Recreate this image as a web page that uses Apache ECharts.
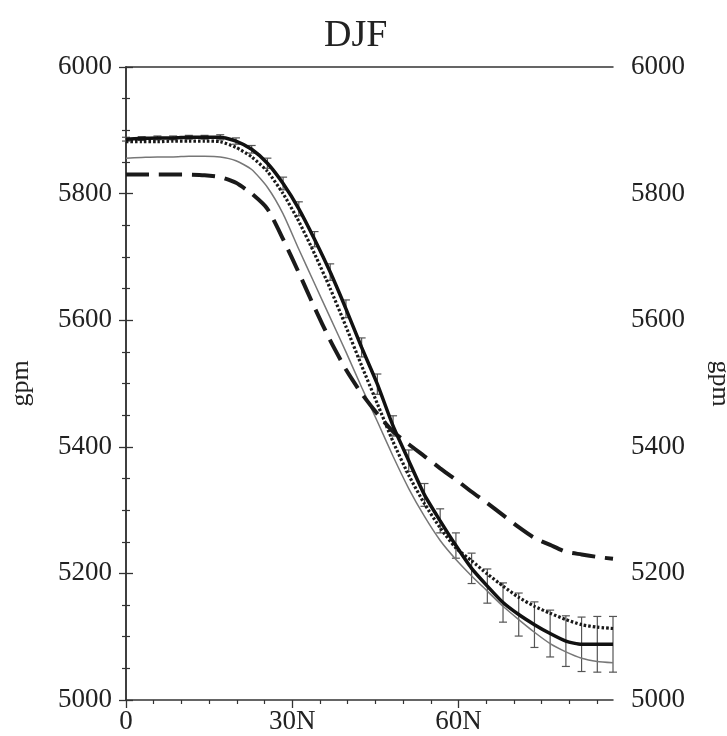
<!DOCTYPE html>
<html><head><meta charset="utf-8">
<script src="https://cdn.jsdelivr.net/npm/echarts@6/dist/echarts.min.js"></script>
<style>html,body{margin:0;padding:0;background:#fff;overflow:hidden}#c{width:727px;height:736px}</style>
</head><body><div id="c"></div>
<script>
// latitude (degrees N) of each data point
const latitudes = [0, 2.83, 5.67, 8.50, 11.34, 14.17, 17.00, 19.84, 22.67, 25.51, 28.34, 31.18, 34.01, 36.84, 39.68, 42.51, 45.35, 48.18, 51.01, 53.85, 56.68, 59.52, 62.35, 65.19, 68.02, 70.85, 73.69, 76.52, 79.36, 82.19, 85.03, 87.86];
// thick solid black line (with error bars)
const thickLine = [5886, 5887, 5888, 5888, 5889, 5889, 5889, 5883, 5870, 5848, 5816, 5776, 5728, 5676, 5618, 5557, 5499, 5433, 5378, 5324, 5283, 5244, 5208, 5180, 5154, 5135, 5119, 5105, 5093, 5088, 5088, 5088];
// half-length of the error bars on the thick line
const errHalf = [3, 3, 3, 3, 3, 3, 4, 5, 6, 8, 10, 11, 12, 13, 14, 15, 16, 16, 17, 18, 19, 20, 24, 27, 31, 34, 36, 37, 40, 43, 44, 44];
// dotted black line
const dottedLine = [5882, 5882, 5882, 5883, 5883, 5883, 5882, 5873, 5858, 5835, 5800, 5756, 5705, 5650, 5590, 5528, 5468, 5408, 5355, 5310, 5272, 5240, 5220, 5199, 5180, 5162, 5148, 5137, 5127, 5119, 5115, 5113];
// thin gray line
const thinLine = [5856, 5857, 5858, 5858, 5859, 5859, 5858, 5852, 5838, 5810, 5768, 5712, 5658, 5604, 5550, 5494, 5440, 5385, 5334, 5290, 5252, 5222, 5196, 5172, 5148, 5127, 5107, 5089, 5076, 5066, 5061, 5059];
// thick dashed black line
const dashedLine = [5830, 5830, 5830, 5830, 5830, 5829, 5826, 5817, 5800, 5776, 5728, 5675, 5620, 5568, 5522, 5484, 5452, 5424, 5404, 5385, 5366, 5348, 5329, 5311, 5292, 5273, 5256, 5245, 5234, 5230, 5226, 5223];

const xMajorTicks = [0, 30, 60];
const xTickLabels = ['0', '30N', '60N'];
const xMinorTicks = [5, 10, 15, 20, 25, 35, 40, 45, 50, 55, 65, 70, 75, 80, 85];
const xMin = 0, xMax = 87.86;
const yMin = 5000, yMax = 6000, yStep = 200;

const FONT = 'Liberation Serif';
const AX = '#333';

const pairs = arr => latitudes.map((x, i) => [x, arr[i]]);

const chart = echarts.init(document.getElementById('c'), null, {renderer: 'canvas'});

const yAxisCommon = {
  type: 'value', min: yMin, max: yMax, interval: yStep,
  axisLine: {show: true, lineStyle: {color: AX, width: 1.5}},
  axisTick: {show: true, length: 7, lineStyle: {color: AX, width: 1.3}},
  minorTick: {show: true, splitNumber: 4, length: 4, lineStyle: {color: AX, width: 1.2}},
  splitLine: {show: false},
  minorSplitLine: {show: false},
  axisLabel: {fontFamily: FONT, fontSize: 27, color: '#222', formatter: v => String(v)},
  name: 'gpm', nameLocation: 'middle',
  nameTextStyle: {fontFamily: FONT, fontSize: 26, color: '#222'}
};

const option = {
  animation: false,
  backgroundColor: '#fff',
  title: {
    text: 'DJF', left: 319, top: 12,
    textStyle: {fontFamily: FONT, fontSize: 38, fontWeight: 'normal', color: '#222'}
  },
  grid: {left: 126, right: 114, top: 67, bottom: 36, containLabel: false, outerBoundsMode: 'none'},
  xAxis: [
    {
      type: 'value', min: xMin, max: xMax, position: 'bottom',
      axisLine: {show: true, onZero: false, lineStyle: {color: AX, width: 1.5}},
      axisTick: {show: true, customValues: xMajorTicks, length: 8, lineStyle: {color: AX, width: 1.3}},
      axisLabel: {
        customValues: xMajorTicks,
        formatter: v => { const k = xMajorTicks.indexOf(v); return k >= 0 ? xTickLabels[k] : ''; },
        fontFamily: FONT, fontSize: 27, color: '#222', margin: 8
      },
      splitLine: {show: false}
    },
    {
      type: 'value', min: xMin, max: xMax, position: 'bottom',
      axisLine: {show: false, onZero: false},
      axisTick: {show: true, customValues: xMinorTicks, length: 4, lineStyle: {color: AX, width: 1.2}},
      axisLabel: {show: false},
      splitLine: {show: false}
    },
    {
      type: 'value', min: xMin, max: xMax, position: 'top',
      axisLine: {show: true, onZero: false, lineStyle: {color: AX, width: 1.5}},
      axisTick: {show: false}, axisLabel: {show: false}, splitLine: {show: false}
    }
  ],
  yAxis: [
    Object.assign({}, yAxisCommon, {
      position: 'left', nameRotate: 90, nameGap: 92,
      axisLabel: Object.assign({}, yAxisCommon.axisLabel, {margin: 14})
    }),
    Object.assign({}, yAxisCommon, {
      position: 'right', nameRotate: -90, nameGap: 94,
      axisLabel: Object.assign({}, yAxisCommon.axisLabel, {margin: 18})
    })
  ],
  series: [
    {
      type: 'custom', name: 'errorbars', xAxisIndex: 0, yAxisIndex: 0, z: 2,
      data: latitudes.map((x, i) => [x, thickLine[i] - errHalf[i], thickLine[i] + errHalf[i]]),
      encode: {x: 0, y: [1, 2]},
      renderItem: function (params, api) {
        const x = api.value(0);
        const lo = api.coord([x, api.value(1)]);
        const hi = api.coord([x, api.value(2)]);
        const w = 4;
        const style = {stroke: '#555', lineWidth: 1.2, fill: null};
        return {type: 'group', children: [
          {type: 'line', shape: {x1: lo[0], y1: lo[1], x2: hi[0], y2: hi[1]}, style: style},
          {type: 'line', shape: {x1: lo[0] - w, y1: lo[1], x2: lo[0] + w, y2: lo[1]}, style: style},
          {type: 'line', shape: {x1: hi[0] - w, y1: hi[1], x2: hi[0] + w, y2: hi[1]}, style: style}
        ]};
      }
    },
    {
      type: 'line', name: 'thin', data: pairs(thinLine), showSymbol: false, smooth: 0.2, z: 3,
      lineStyle: {color: '#777', width: 1.5}
    },
    {
      type: 'line', name: 'dashed', data: pairs(dashedLine), showSymbol: false, smooth: 0.2, z: 4,
      lineStyle: {color: '#1a1a1a', width: 4, type: [23, 10]}
    },
    {
      type: 'line', name: 'dotted', data: pairs(dottedLine), showSymbol: false, smooth: 0.2, z: 5,
      lineStyle: {color: '#1a1a1a', width: 3.2, type: [2.5, 2]}
    },
    {
      type: 'line', name: 'thick', data: pairs(thickLine), showSymbol: false, smooth: 0.2, z: 6,
      lineStyle: {color: '#111', width: 3.5}
    }
  ]
};
chart.setOption(option);
</script>
</body></html>
